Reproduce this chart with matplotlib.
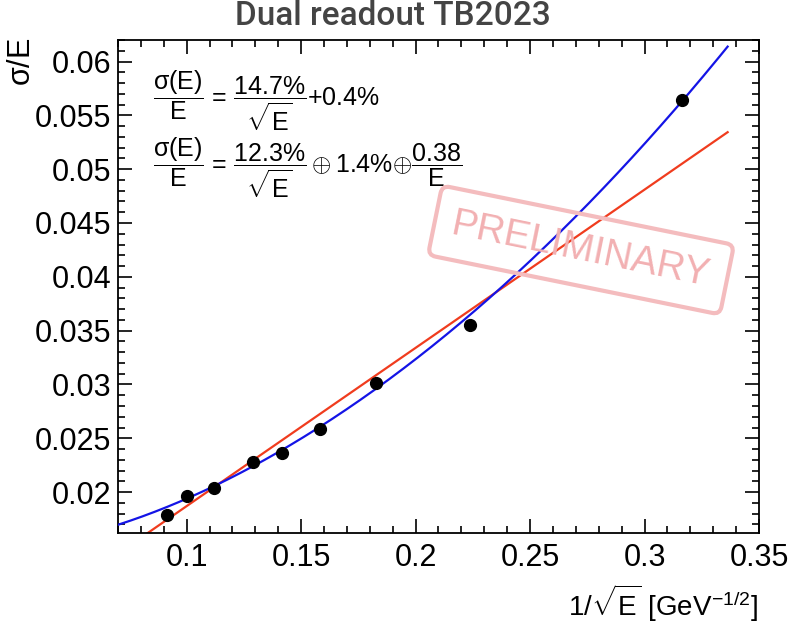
import matplotlib
matplotlib.use("Agg")
import matplotlib.pyplot as plt
import numpy as np

plt.rcParams['font.family'] = ['Liberation Sans', 'DejaVu Sans']
plt.rcParams['mathtext.fontset'] = 'custom'
plt.rcParams['mathtext.rm'] = 'Liberation Sans'
plt.rcParams['mathtext.it'] = 'Liberation Sans'
plt.rcParams['mathtext.bf'] = 'Liberation Sans:bold'

# data: 1/sqrt(E) and resolution
energy = [120, 100, 80, 60, 50, 40, 30, 20, 10]
inv_sqrt_e = [1 / np.sqrt(e) for e in energy]
sigma_e = [0.01786, 0.01963, 0.02034, 0.02277, 0.02360, 0.02586, 0.03013, 0.03550, 0.05640]
sigma_err = [0.0002, 0.0002, 0.0002, 0.0002, 0.0002, 0.0002, 0.0002, 0.0002, 0.0006]

# fit parameters
lin_fit = [0.147, 0.004]            # a/sqrt(E) + b
quad_fit = [0.123, 0.0145, 0.38]    # a/sqrt(E) (+) b (+) c/E
fit_range = [0.07, 0.3363]

fig = plt.figure(figsize=(7.88, 6.25), dpi=100)
ax = fig.add_axes([118 / 788, 92 / 625, 641 / 788, 493 / 625])

xf = np.linspace(fit_range[0], fit_range[1], 300)
ax.plot(xf, lin_fit[0] * xf + lin_fit[1], color='#f03c1e', lw=1.6, zorder=2)
ax.plot(xf, np.sqrt((quad_fit[0] * xf) ** 2 + quad_fit[1] ** 2 + (quad_fit[2] * xf ** 2) ** 2),
        color='#1414e6', lw=1.6, zorder=3)
ax.errorbar(inv_sqrt_e, sigma_e, yerr=sigma_err, fmt='o', color='black', ms=8.5,
            elinewidth=1.5, capsize=0, zorder=4)

ax.set_xlim(0.07, 0.35)
ax.set_ylim(0.0162, 0.0620)
ax.set_xticks([0.1, 0.15, 0.2, 0.25, 0.3, 0.35])
ax.set_xticklabels(['0.1', '0.15', '0.2', '0.25', '0.3', '0.35'])
ax.set_yticks([0.02, 0.025, 0.03, 0.035, 0.04, 0.045, 0.05, 0.055, 0.06])
ax.set_yticklabels(['0.02', '0.025', '0.03', '0.035', '0.04', '0.045', '0.05', '0.055', '0.06'])
ax.set_xticks(np.arange(0.07, 0.3501, 0.01), minor=True)
ax.set_yticks(np.arange(0.017, 0.0621, 0.001), minor=True)
ax.tick_params(which='both', direction='in', top=True, right=True, labelsize=22, width=1.2)
ax.tick_params(which='major', length=10)
ax.tick_params(which='minor', length=5)
ax.tick_params(axis='x', pad=7)
ax.tick_params(axis='y', pad=5)
for s in ax.spines.values():
    s.set_linewidth(1.3)

fig.text(0.498, 1 - 16 / 625, 'Dual readout TB2023', ha='center', va='center',
         fontsize=24, color='#444444', family=['Roboto', 'DejaVu Sans'], fontweight='medium')
fig.text(22 / 788, 1 - 38 / 625, r'$\sigma$/E', rotation=90, ha='center', va='top', fontsize=22)
fig.text(758 / 788, 1 - 603 / 625, r'1/$\sqrt{E}$ [GeV$^{-1/2}$]', ha='right', va='center', fontsize=20)

fig.text(153 / 788, 1 - 101 / 625, r'$\dfrac{\sigma(E)}{E}$ = $\dfrac{14.7\%}{\sqrt{E}}$+0.4%',
         ha='left', va='center', fontsize=18)
fig.text(153 / 788, 1 - 168 / 625,
         r'$\dfrac{\sigma(E)}{E}$ = $\dfrac{12.3\%}{\sqrt{E}}\oplus$1.4%$\oplus\dfrac{0.38}{E}$',
         ha='left', va='center', fontsize=18)

fig.text(581 / 788, 1 - 250 / 625, 'PRELIMINARY', rotation=-11.5, ha='center', va='center',
         fontsize=28, color='#f2b0b2', family=['Liberation Sans Narrow', 'Liberation Sans'],
         rotation_mode='anchor',
         bbox=dict(boxstyle='round,pad=0.45,rounding_size=0.2', fc='none', ec='#f4bcbe', lw=3))

fig.savefig('out.png', dpi=100)
